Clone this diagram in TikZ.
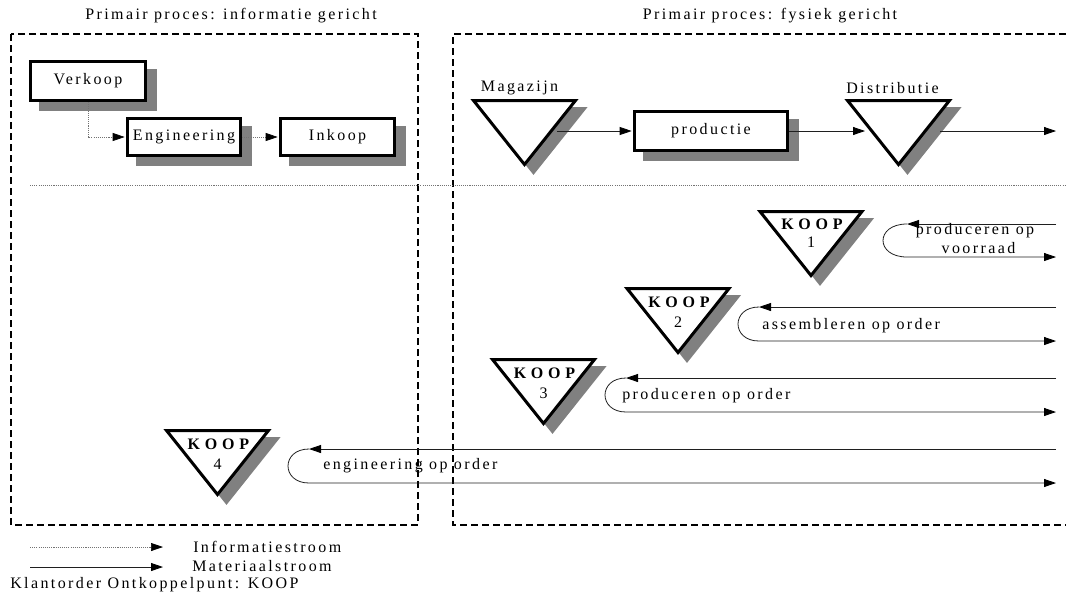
\documentclass[tikz,border=0pt]{standalone}
\usepackage{fontspec}
\setmainfont{Liberation Serif}[LetterSpace=15]
\usetikzlibrary{arrows.meta}
\definecolor{shadowgray}{gray}{0.5}
\definecolor{linegray}{gray}{0.12}
\definecolor{dotgray}{gray}{0.45}

\tikzset{
  % inverted triangle (storage point / decoupling point) with its drop shadow
  pics/funnel/.style={code={
    \filldraw[shadowgray, line width=2.25pt, line join=miter] (-42,8) -- (60,8) -- (9,72) -- cycle;
    \filldraw[draw=black, fill=white, line width=2.25pt, line join=miter] (-51,0) -- (51,0) -- (0,64) -- cycle;
    \coordinate (-top) at (0,0);
  }},
}

\begin{document}
\begin{tikzpicture}[x=0.75pt, y=-0.75pt,
  every node/.style={font=\fontsize{12pt}{14pt}\selectfont, inner sep=0pt},
  headtip/.style={-{Triangle[length=9pt, width=6pt, color=black]}},
  flow/.style={headtip, line width=0.6pt, draw=linegray},
  info/.style={headtip, line width=0.5pt, draw=dotgray, dash pattern=on 0.8pt off 0.8pt},
  frame/.style={line width=1.1pt, dash pattern=on 5.25pt off 3pt},
  sep/.style={line width=0.5pt, draw=dotgray, dash pattern=on 0.8pt off 0.8pt},
  stepbox/.style={draw=black, fill=white, line width=2.25pt,
    preaction={fill=shadowgray, draw=shadowgray, transform canvas={shift={(7.5pt,-6.75pt)}}}},
  kooptxt/.style={font=\fontsize{12pt}{14pt}\selectfont\bfseries\addfontfeature{LetterSpace=30}},
]
\useasboundingbox (0,0) rectangle (1066,601);

% column headings
\node (ttl-info) at (231,16) {Primair proces: informatie gericht};
\node (ttl-phys) at (770,16) {Primair proces: fysiek gericht};

% dashed frames of the two columns
\draw[frame] (11,34) rectangle (418,525);
\draw[frame] (1066,34) -- (453,34) -- (453,525) -- (1066,525);

% separator between primary process and decoupling points
\draw[sep] (30,185) -- (1066,185);

% information-oriented process
\node[stepbox, minimum width=86.25pt, minimum height=29.25pt] (verkoop) at (88,81) {Verkoop};
\node[stepbox, minimum width=84.75pt, minimum height=27.75pt] (engineering) at (184,137) {Engineering};
\node[stepbox, minimum width=85.5pt, minimum height=27.75pt] (inkoop) at (337.5,137) {Inkoop};
\draw[info, shorten >=1pt] (verkoop.south) |- (engineering.west);
\draw[info, shorten >=1pt] (engineering.east) -- (inkoop.west);

% physical process
\pic (mag) at (524.5,100.5) {funnel};
\pic (dis) at (898.5,100.5) {funnel};
\node (lbl-mag) at (519.5,88) {Magazijn};
\node (lbl-dis) at (892.5,88) {Distributie};
\node[stepbox, minimum width=114.75pt, minimum height=29.25pt] (productie) at (711,131) {productie};
\coordinate (mag-out) at (557,131);
\coordinate (dis-in) at (865,131);
\coordinate (dis-out) at (940,131);
\coordinate (phys-end) at (1056,131);
\draw[flow, shorten >=1pt] (mag-out) -- (productie.west);
\draw[flow] (productie.east) -- (dis-in);
\draw[flow] (dis-out) -- (phys-end);

% customer order decoupling points
\pic (k1) at (811,211.5) {funnel};
\pic (k2) at (678,288.5) {funnel};
\pic (k3) at (543.5,359.5) {funnel};
\pic (k4) at (217.5,430.5) {funnel};
\node[kooptxt] (k1-name) at (812,224) {KOOP};
\node (k1-num) at (811,242) {1};
\node[kooptxt] (k2-name) at (679,302) {KOOP};
\node (k2-num) at (678,322) {2};
\node[kooptxt] (k3-name) at (544.5,373) {KOOP};
\node (k3-num) at (543.5,393) {3};
\node[kooptxt] (k4-name) at (218.5,444) {KOOP};
\node (k4-num) at (217.5,464) {4};

% order loops
\coordinate (l1-in) at (1056,224);  \coordinate (l1-turn) at (907,224);
\coordinate (l1-back) at (907,257); \coordinate (l1-out) at (1056,257);
\draw[flow] (l1-in) -- (l1-turn);
\draw[flow] (l1-turn) .. controls +(-32,0) and +(-32,0) .. (l1-back) -- (l1-out);
\node (l1-text-a) at (975,231) {produceren op};
\node (l1-text-b) at (978.5,248) {voorraad};

\coordinate (l2-in) at (1056,307);  \coordinate (l2-turn) at (759,307);
\coordinate (l2-back) at (759,341); \coordinate (l2-out) at (1056,341);
\draw[flow] (l2-in) -- (l2-turn);
\draw[flow] (l2-turn) .. controls +(-28,0) and +(-28,0) .. (l2-back) -- (l2-out);
\node[anchor=west] (l2-text) at (762,326) {assembleren op order};

\coordinate (l3-in) at (1056,378);  \coordinate (l3-turn) at (626,378);
\coordinate (l3-back) at (626,412); \coordinate (l3-out) at (1056,412);
\draw[flow] (l3-in) -- (l3-turn);
\draw[flow] (l3-turn) .. controls +(-28,0) and +(-28,0) .. (l3-back) -- (l3-out);
\node[anchor=west] (l3-text) at (622,396) {produceren op order};

\coordinate (l4-in) at (1056,449);  \coordinate (l4-turn) at (309,449);
\coordinate (l4-back) at (309,483); \coordinate (l4-out) at (1056,483);
\draw[flow] (l4-in) -- (l4-turn);
\draw[flow] (l4-turn) .. controls +(-28,0) and +(-28,0) .. (l4-back) -- (l4-out);
\node[anchor=west] (l4-text) at (323,466) {engineering op order};

% legend
\coordinate (leg-i-a) at (30,547); \coordinate (leg-i-b) at (163,547);
\coordinate (leg-m-a) at (30,567); \coordinate (leg-m-b) at (163,567);
\draw[info] (leg-i-a) -- (leg-i-b);
\draw[flow] (leg-m-a) -- (leg-m-b);
\node[anchor=west] (leg-i) at (193,547) {Informatiestroom};
\node[anchor=west] (leg-m) at (192,566) {Materiaalstroom};
\node[anchor=west] (leg-k) at (10,585) {Klantorder Ontkoppelpunt: KOOP};
\end{tikzpicture}
\end{document}
